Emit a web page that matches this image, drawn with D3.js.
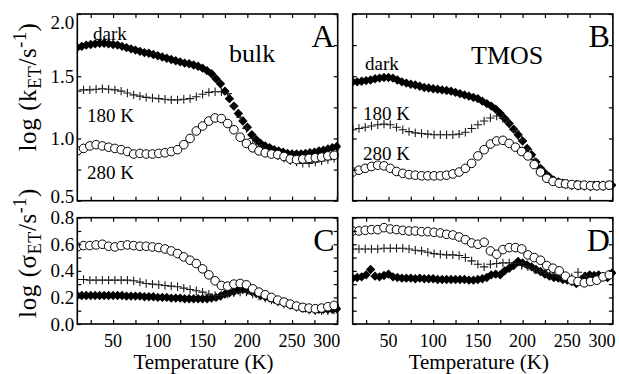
<!DOCTYPE html>
<html><head><meta charset="utf-8">
<script src="https://cdn.jsdelivr.net/npm/d3@7"></script>
<style>
body{margin:0;background:#fff}
svg{display:block}
svg text{font-family:'Liberation Serif','Times New Roman',serif;fill:#000}
</style>
</head><body>
<svg id="chart" width="619" height="374"></svg>
<script>
// ---------- DATA ----------
const tempDense = [10,15,20,25,30,35,40,45,50,55,60,65,70,75,80,85,90,95,100,105,110,115,120,125,130,135,140,145,150,155,160,165,170,175,180,185,190,195,200,205,210,215,220,225,230,235,240,245,250,255,260,265,270,275,280,285,290,295,300];
const tempSparse = [10,17,24,31,38,45,52,59,66,73,80,87,94,101,108,115,122,129,136,143,150,157,164,171,178,185,192,199,206,213,220,227,234,241,248,255,262,269,276,283,290,297];

// Panel A: bulk, log k_ET
const bulkDarkK = [1.73,1.74,1.75,1.755,1.76,1.765,1.765,1.76,1.755,1.75,1.74,1.73,1.72,1.71,1.70,1.69,1.685,1.675,1.665,1.655,1.645,1.635,1.625,1.615,1.605,1.60,1.59,1.58,1.565,1.545,1.52,1.48,1.44,1.38,1.32,1.26,1.20,1.14,1.09,1.03,0.99,0.96,0.94,0.925,0.91,0.90,0.89,0.88,0.875,0.875,0.875,0.88,0.885,0.89,0.90,0.905,0.915,0.925,0.935];
const bulk180K = [1.38,1.39,1.39,1.395,1.40,1.395,1.39,1.38,1.365,1.35,1.34,1.33,1.325,1.32,1.315,1.31,1.31,1.315,1.32,1.335,1.355,1.37,1.375,1.375,1.36,1.26,1.17,1.08,1.00,0.95,0.91,0.88,0.86,0.84,0.82,0.81,0.80,0.80,0.81,0.82,0.83,0.84];
const bulk280K = [0.90,0.92,0.94,0.95,0.94,0.93,0.92,0.91,0.895,0.875,0.88,0.875,0.875,0.88,0.885,0.895,0.91,0.95,1.00,1.06,1.10,1.14,1.165,1.16,1.12,1.07,1.01,0.96,0.925,0.90,0.885,0.875,0.87,0.855,0.835,0.83,0.835,0.84,0.845,0.85,0.86,0.865];

// Panel B: TMOS, log k_ET
const tmosDarkK = [1.455,1.455,1.46,1.465,1.47,1.48,1.485,1.49,1.49,1.485,1.47,1.455,1.445,1.435,1.43,1.42,1.41,1.405,1.40,1.395,1.39,1.385,1.38,1.37,1.36,1.35,1.34,1.33,1.32,1.30,1.28,1.26,1.235,1.20,1.16,1.12,1.075,1.03,0.98,0.92,0.87,0.81,0.76,0.72,0.69,0.665,0.65,0.64,0.635,0.63,0.63,0.625,0.625,0.625,0.625,0.625,0.625,0.625,0.625];
const tmos180K = [1.07,1.08,1.09,1.10,1.11,1.115,1.11,1.09,1.07,1.055,1.045,1.04,1.035,1.03,1.03,1.03,1.03,1.035,1.05,1.08,1.11,1.14,1.165,1.18,1.16,1.12,1.06,0.99,0.91,0.83,0.76,0.70,0.665,0.645,0.63,0.62,0.615,0.615,0.61,0.615,0.615,0.62];
const tmos280K = [0.73,0.745,0.76,0.775,0.785,0.78,0.76,0.735,0.72,0.71,0.705,0.70,0.70,0.70,0.70,0.705,0.715,0.73,0.76,0.80,0.86,0.91,0.955,0.98,0.985,0.96,0.93,0.895,0.86,0.79,0.73,0.68,0.655,0.64,0.635,0.63,0.625,0.625,0.62,0.62,0.62,0.625];

// Panel C: bulk, log sigma_ET
const bulkDarkS = [0.215,0.215,0.215,0.215,0.215,0.215,0.215,0.215,0.215,0.215,0.215,0.21,0.21,0.21,0.21,0.205,0.205,0.205,0.20,0.20,0.20,0.195,0.195,0.195,0.19,0.19,0.19,0.19,0.19,0.19,0.195,0.20,0.21,0.225,0.235,0.245,0.255,0.26,0.255,0.245,0.23,0.215,0.205,0.195,0.185,0.175,0.165,0.155,0.145,0.135,0.125,0.12,0.115,0.11,0.11,0.11,0.11,0.11,0.115];
const bulk180S = [0.335,0.335,0.33,0.33,0.33,0.33,0.33,0.33,0.33,0.325,0.315,0.305,0.30,0.295,0.29,0.285,0.28,0.27,0.26,0.25,0.24,0.225,0.215,0.215,0.225,0.235,0.24,0.24,0.225,0.21,0.195,0.18,0.165,0.15,0.14,0.125,0.115,0.105,0.10,0.10,0.10,0.105];
const bulk280S = [0.58,0.59,0.59,0.595,0.60,0.585,0.58,0.59,0.595,0.59,0.585,0.585,0.58,0.575,0.565,0.55,0.53,0.505,0.48,0.455,0.415,0.37,0.325,0.29,0.285,0.30,0.305,0.295,0.265,0.24,0.22,0.20,0.18,0.165,0.15,0.135,0.125,0.12,0.115,0.12,0.13,0.14];

// Panel D: TMOS, log sigma_ET
const tmosDarkS = [0.345,0.35,0.355,0.37,0.41,0.36,0.355,0.365,0.375,0.355,0.35,0.345,0.345,0.345,0.34,0.345,0.34,0.34,0.34,0.335,0.335,0.335,0.335,0.335,0.335,0.335,0.33,0.33,0.335,0.34,0.35,0.37,0.375,0.37,0.40,0.42,0.44,0.47,0.46,0.445,0.43,0.41,0.395,0.375,0.36,0.35,0.345,0.335,0.33,0.32,0.305,0.33,0.36,0.37,0.365,0.37,0.355,0.35,0.385];
const tmos180S = [0.565,0.565,0.565,0.565,0.565,0.57,0.57,0.57,0.57,0.565,0.555,0.55,0.54,0.53,0.525,0.52,0.52,0.515,0.50,0.475,0.45,0.43,0.45,0.455,0.46,0.46,0.455,0.44,0.43,0.41,0.395,0.38,0.37,0.355,0.345,0.35,0.39,0.36,0.345,0.35,0.355,0.37];
const tmos280S = [0.70,0.70,0.705,0.71,0.71,0.725,0.715,0.71,0.705,0.70,0.70,0.695,0.695,0.69,0.685,0.675,0.67,0.655,0.635,0.61,0.60,0.615,0.55,0.525,0.56,0.575,0.575,0.565,0.52,0.50,0.48,0.44,0.42,0.40,0.36,0.33,0.32,0.31,0.32,0.33,0.355,0.37];

const xTickValues = [25,50,75,100,125,150,175,200,225,250,275,300];
const xTickLabels = [50,100,150,200,250,300];
const kTickValues = [0.5,0.75,1.0,1.25,1.5,1.75,2.0];
const kTickLabels = ["0.5","1.0","1.5","2.0"];
const sTickValues = [0,0.1,0.2,0.3,0.4,0.5,0.6,0.7,0.8];
const sTickLabels = ["0.0","0.2","0.4","0.6","0.8"];

// ---------- LAYOUT ----------
const FONT = "Liberation Serif, Times New Roman, serif";
const svg = d3.select("#chart");
const colX = [[77.3,337.7],[352.7,612.9]];
const rowY = [[14,200.7],[217.7,324]];
const xDomain = [10,301];

const panels = [
  {col:0,row:0,letter:"A",dark:bulkDarkK,p180:bulk180K,p280:bulk280K,ydom:[0.5,2.0],yt:kTickValues,yl:kTickLabels},
  {col:1,row:0,letter:"B",dark:tmosDarkK,p180:tmos180K,p280:tmos280K,ydom:[0.5,2.0],yt:kTickValues,yl:null},
  {col:0,row:1,letter:"C",dark:bulkDarkS,p180:bulk180S,p280:bulk280S,ydom:[0,0.8],yt:sTickValues,yl:sTickLabels},
  {col:1,row:1,letter:"D",dark:tmosDarkS,p180:tmos180S,p280:tmos280S,ydom:[0,0.8],yt:sTickValues,yl:null}
];

const diamond = h => `M0,${-h}L${h},0L0,${h}L${-h},0Z`;
const plus = h => `M${-h},0L${h},0M0,${-h}L0,${h}`;
const txt = (sel) => sel.append("text").attr("font-family",FONT);

panels.forEach(p => {
  const [x0,x1] = colX[p.col], [y0,y1] = rowY[p.row];
  const x = d3.scaleLinear().domain(xDomain).range([x0,x1]);
  const y = d3.scaleLinear().domain(p.ydom).range([y1,y0]);
  const g = svg.append("g");
  const clipId = "clip"+p.letter;
  svg.append("clipPath").attr("id",clipId).append("rect")
    .attr("x",x0).attr("y",y0-2).attr("width",x1-x0+3).attr("height",y1-y0+4);
  const data = g.append("g").attr("clip-path",`url(#${clipId})`);

  data.selectAll("path.dk").data(tempDense.map((t,i)=>[t,p.dark[i]])).join("path")
    .attr("d",diamond(4.7)).attr("fill","#000")
    .attr("transform",d=>`translate(${x(d[0])},${y(d[1])})`);
  data.selectAll("path.pl").data(tempSparse.map((t,i)=>[t,p.p180[i]])).join("path")
    .attr("d",plus(4.2)).attr("fill","none").attr("stroke","#1a1a1a").attr("stroke-width",1.1)
    .attr("transform",d=>`translate(${x(d[0])},${y(d[1])})`);
  data.selectAll("circle").data(tempSparse.map((t,i)=>[t,p.p280[i]])).join("circle")
    .attr("cx",d=>x(d[0])).attr("cy",d=>y(d[1])).attr("r",4.3)
    .attr("fill","#fff").attr("stroke","#000").attr("stroke-width",1);

  const tk = 4;
  g.append("g").attr("transform",`translate(0,${y1})`).call(d3.axisBottom(x).tickValues(xTickValues).tickSize(-tk).tickFormat("")).call(s=>s.select(".domain").remove());
  g.append("g").attr("transform",`translate(0,${y0})`).call(d3.axisTop(x).tickValues(xTickValues).tickSize(-tk).tickFormat("")).call(s=>s.select(".domain").remove());
  g.append("g").attr("transform",`translate(${x0},0)`).call(d3.axisLeft(y).tickValues(p.yt).tickSize(-tk).tickFormat("")).call(s=>s.select(".domain").remove());
  g.append("g").attr("transform",`translate(${x1},0)`).call(d3.axisRight(y).tickValues(p.yt).tickSize(-tk).tickFormat("")).call(s=>s.select(".domain").remove());
  g.selectAll(".tick line").attr("stroke","#000").attr("stroke-width",1.2);

  g.append("rect").attr("x",x0).attr("y",y0).attr("width",x1-x0).attr("height",y1-y0)
    .attr("fill","none").attr("stroke","#000").attr("stroke-width",1.6);

  if (p.yl) {
    p.yl.forEach(v => {
      let yy = y(+v);
      if (p.row===0) yy = Math.min(Math.max(yy, y0+8), y1-4);
      txt(g).attr("x",x0-3).attr("y",yy+6.5).attr("text-anchor","end")
        .attr("font-size",19).text(v);
    });
  }
  if (p.row===1) {
    xTickLabels.forEach((v,i) => {
      const xx = x(v) - (i===xTickLabels.length-1 ? 10 : 0);
      txt(g).attr("x",xx).attr("y",347).attr("text-anchor","middle")
        .attr("font-size",18).text(v);
    });
    txt(g).attr("x",(x0+x1)/2-4).attr("y",368.5).attr("text-anchor","middle")
      .attr("font-size",21).text("Temperature (K)");
  }
  const ly = p.row===0 ? 47 : 251;
  txt(g).attr("x",x1-3).attr("y",ly).attr("text-anchor","end")
    .attr("font-size",32).text(p.letter);
});

const ann = [
  {t:"dark",x:93,y:40,fs:19},{t:"180 K",x:87,y:122,fs:19},{t:"280 K",x:87,y:179,fs:19},
  {t:"bulk",x:229,y:62,fs:26},
  {t:"dark",x:365,y:70,fs:19},{t:"180 K",x:363,y:120,fs:19},{t:"280 K",x:363,y:160,fs:19},
  {t:"TMOS",x:471,y:64,fs:26}
];
ann.forEach(a => txt(svg).attr("x",a.x).attr("y",a.y).attr("font-size",a.fs).text(a.t));

function yTitle(cx, cy, sym) {
  const t = txt(svg).attr("transform",`translate(${cx},${cy}) rotate(-90)`)
    .attr("text-anchor","middle").attr("font-size",25).attr("letter-spacing",0.6);
  t.append("tspan").text("log (" + sym);
  t.append("tspan").attr("font-size",18).attr("dy",5).text("ET");
  t.append("tspan").attr("dy",-5).text("/s");
  t.append("tspan").attr("font-size",18).attr("dy",-10).text("-1");
  t.append("tspan").attr("dy",10).text(")");
}
yTitle(36, 87, "k");
yTitle(36, 253, "σ");
</script>
</body></html>
